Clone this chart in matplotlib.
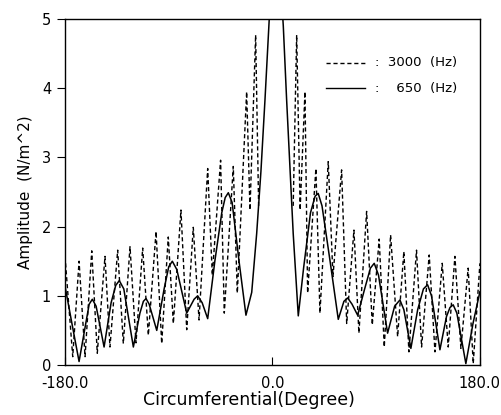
import numpy as np
import matplotlib
matplotlib.use("Agg")
import matplotlib.pyplot as plt

# 650 Hz curve (solid)
deg_650 = [-180, -174, -167.8, -162, -159, -156.3, -153, -146.1, -140, -136, -132.9, -129,
           -120.7, -115, -112, -109.7, -107, -100.4, -94, -90, -86.9, -83, -74.4, -68,
           -64.9, -61, -56.2, -50, -44, -41, -38.3, -35, -29, -23, -18, -13.7, -10, -6.5,
           -2.8, 3, 9.4, 12.3, 18, 22.4, 27, 33, 37, 39.7, 43, 50, 57.1, 62, 65.2, 69,
           73.9, 80, 85, 88.3, 92, 99.9, 106, 110.6, 114, 120.1, 126, 131, 134.6, 138,
           145.3, 151, 154, 156.8, 160, 167.8, 174, 180]
amp_650 = [1.14, 0.6, 0.05, 0.6, 0.88, 0.95, 0.85, 0.26, 0.9, 1.15, 1.22, 1.1,
           0.26, 0.75, 0.92, 0.96, 0.88, 0.50, 1.1, 1.42, 1.50, 1.38, 0.75, 0.95,
           1.0, 0.9, 0.67, 1.5, 2.2, 2.42, 2.49, 2.35, 1.5, 0.72, 1.05, 1.9, 2.8, 3.83,
           5.0, 6.6, 4.9, 3.83, 1.9, 0.71, 1.4, 2.2, 2.44, 2.48, 2.3, 1.5, 0.66, 0.92, 0.97, 0.88,
           0.72, 1.1, 1.4, 1.47, 1.3, 0.46, 0.85, 0.94, 0.8, 0.24, 0.8, 1.1, 1.16, 1.0,
           0.22, 0.7, 0.83, 0.87, 0.75, 0.02, 0.6, 1.06]

# 3000 Hz curve (dashed); the main lobe is not drawn in the original
deg_3000 = [-180, -173.3, -167.8, -162.6, -156.8, -152, -145.3, -141, -134.3, -129.4,
            -123.6, -118.4, -112.6, -107.7, -101, -96.1, -90.4, -86, -79.4, -74.4,
            -68.7, -63.7, -56.2, -52.2, -45, -41.8, -34, -30.5, -22.4, -19.5, -14.6, -12,
            np.nan,
            18, 21, 24, 28.2, 30.5, 37.7, 41.2, 48.4, 52.5, 60, 64.4, 70.7, 75, 81.7,
            86.6, 92.6, 97, 102.5, 108.6, 114, 118.4, 125, 129.4, 136, 141, 147.3,
            152.5, 158.3, 163.5, 169.8, 174.2, 180]
amp_3000 = [1.57, 0.12, 1.50, 0.12, 1.65, 0.17, 1.57, 0.26, 1.66, 0.31,
            1.71, 0.32, 1.69, 0.43, 1.93, 0.31, 1.85, 0.60, 2.24, 0.51,
            1.99, 0.65, 2.84, 1.30, 2.96, 0.75, 2.87, 1.04, 3.95, 2.24, 4.77, 2.3,
            np.nan,
            2.3, 4.77, 2.24, 3.95, 1.04, 2.84, 0.75, 2.94, 1.28, 2.82, 0.60, 1.95, 0.46, 2.22,
            0.58, 1.82, 0.26, 1.88, 0.41, 1.64, 0.19, 1.66, 0.26, 1.59, 0.19, 1.47,
            0.26, 1.57, 0.24, 1.40, 0.02, 1.47]

xticks = [-180, 0, 180]
xtick_labels = ["-180.0", "0.0", "180.0"]
yticks = [0, 1, 2, 3, 4, 5]

fig = plt.figure(figsize=(5.02, 4.15), dpi=100)
ax = fig.add_axes([0.1295, 0.1205, 0.8265, 0.8335])

ax.plot(deg_3000, amp_3000, color="black", lw=1.0, ls=(0, (3, 2)))
ax.plot(deg_650, amp_650, color="black", lw=1.1)

ax.set_xlim(-180, 180)
ax.set_ylim(0, 5)
ax.set_xticks(xticks)
ax.set_xticklabels(xtick_labels)
ax.set_yticks(yticks)
ax.tick_params(axis="x", direction="in", length=6, labelsize=10.5, pad=8)
ax.tick_params(axis="y", direction="out", length=6, labelsize=10.5, pad=4)
for s in ax.spines.values():
    s.set_linewidth(1.0)

ax.set_xlabel("Circumferential(Degree)", fontsize=12.5, labelpad=0, x=0.443, ha="center")
ax.set_ylabel("Amplitude  (N/m^2)", fontsize=11, labelpad=6)

# hand drawn key, as in the original
ax.plot([0.630, 0.724], [0.874, 0.874], transform=ax.transAxes, color="black",
        lw=1.0, ls=(0, (3, 2)))
ax.plot([0.630, 0.724], [0.800, 0.800], transform=ax.transAxes, color="black", lw=1.0)
ax.text(0.748, 0.874, ":  3000  (Hz)", transform=ax.transAxes, fontsize=9.5, va="center")
ax.text(0.748, 0.800, ":    650  (Hz)", transform=ax.transAxes, fontsize=9.5, va="center")

fig.savefig("out.png", dpi=100)
